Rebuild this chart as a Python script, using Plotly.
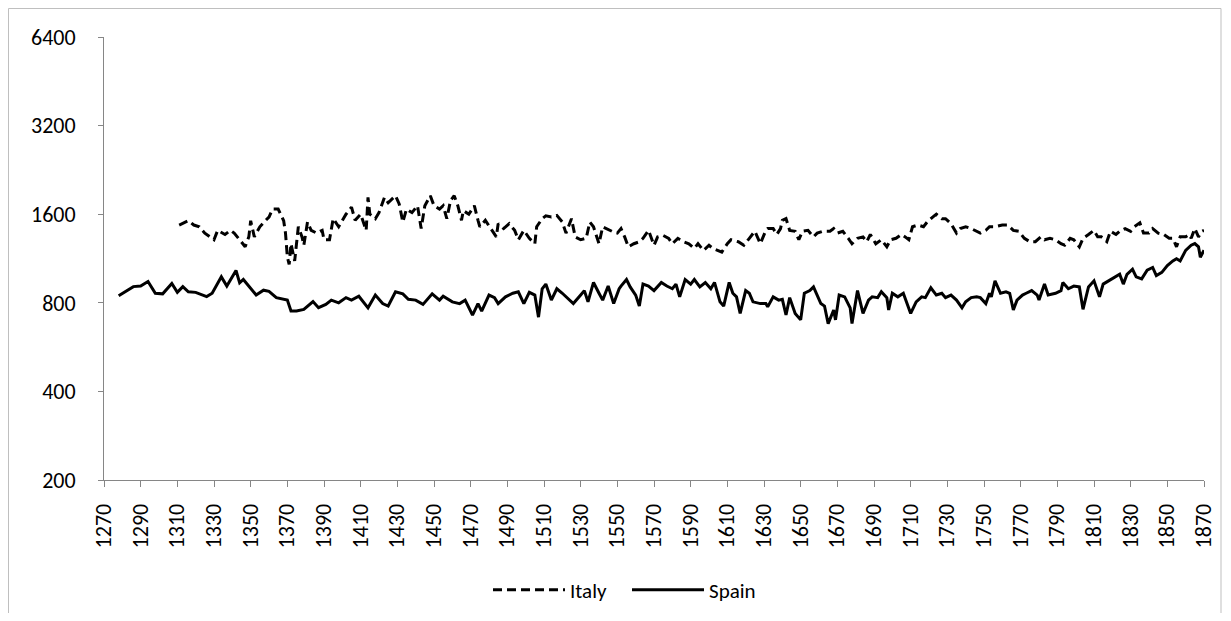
import plotly.graph_objects as go

italy_years = [1311, 1316, 1319, 1322, 1325, 1330, 1332, 1336, 1339, 1341, 1344, 1347, 1349, 1350, 1352,
               1355, 1358, 1360, 1362, 1365, 1368, 1369, 1370, 1371, 1372, 1374, 1376, 1378, 1379, 1381,
               1383, 1386, 1389, 1390, 1393, 1395, 1398, 1402, 1405, 1407, 1410, 1413, 1414, 1415, 1418,
               1420, 1423, 1425, 1429, 1431, 1433, 1435, 1438, 1441, 1443, 1445, 1448, 1450, 1453, 1455,
               1457, 1459, 1461, 1463, 1465, 1466, 1469, 1472, 1474, 1475, 1478, 1481, 1484, 1485, 1488,
               1491, 1494, 1496, 1499, 1502, 1505, 1506, 1509, 1511, 1514, 1517, 1520, 1522, 1525, 1527,
               1530, 1533, 1535, 1537, 1540, 1542, 1544, 1547, 1550, 1552, 1554, 1556, 1559, 1562, 1564,
               1567, 1570, 1572, 1575, 1578, 1580, 1583, 1586, 1589, 1592, 1594, 1597, 1600, 1602, 1605,
               1607, 1610, 1612, 1616, 1619, 1622, 1625, 1628, 1631, 1632, 1635, 1637, 1639, 1640, 1642,
               1644, 1647, 1649, 1651, 1654, 1657, 1659, 1662, 1666, 1668, 1670, 1673, 1676, 1678, 1681,
               1684, 1686, 1688, 1691, 1694, 1697, 1699, 1702, 1705, 1707, 1709, 1711, 1714, 1717, 1719,
               1722, 1724, 1727, 1729, 1732, 1735, 1737, 1740, 1743, 1746, 1748, 1751, 1753, 1756, 1760,
               1763, 1766, 1769, 1772, 1775, 1778, 1781, 1783, 1786, 1789, 1792, 1794, 1797, 1799, 1802,
               1804, 1807, 1810, 1812, 1814, 1817, 1819, 1822, 1824, 1827, 1830, 1832, 1835, 1837, 1840,
               1842, 1845, 1848, 1851, 1853, 1855, 1857, 1860, 1862, 1863, 1865, 1867, 1869, 1870]
italy_values = [1470, 1520, 1470, 1450, 1380, 1310, 1410, 1365, 1410, 1380, 1310, 1240, 1340, 1520, 1340,
                1450, 1520, 1565, 1665, 1665, 1520, 1380, 1145, 1080, 1270, 1110, 1450, 1340, 1255, 1505,
                1410, 1380, 1410, 1310, 1310, 1545, 1450, 1600, 1690, 1525, 1600, 1410, 1825, 1600, 1545,
                1620, 1825, 1750, 1850, 1735, 1505, 1665, 1620, 1710, 1430, 1710, 1850, 1710, 1665, 1710,
                1545, 1780, 1850, 1710, 1525, 1645, 1600, 1710, 1525, 1450, 1525, 1430, 1340, 1485, 1430,
                1485, 1410, 1310, 1410, 1325, 1270, 1450, 1545, 1580, 1565, 1585, 1505, 1380, 1545, 1340,
                1310, 1325, 1505, 1450, 1270, 1450, 1430, 1400, 1380, 1430, 1340, 1240, 1270, 1290, 1325,
                1410, 1255, 1340, 1355, 1325, 1270, 1325, 1290, 1270, 1225, 1270, 1205, 1255, 1225, 1205,
                1190, 1270, 1310, 1290, 1255, 1325, 1400, 1270, 1410, 1430, 1430, 1365, 1430, 1525, 1545,
                1410, 1400, 1310, 1400, 1410, 1340, 1380, 1400, 1400, 1430, 1380, 1400, 1325, 1270, 1325,
                1340, 1290, 1365, 1270, 1310, 1240, 1310, 1325, 1365, 1340, 1310, 1450, 1470, 1450, 1505,
                1565, 1600, 1545, 1545, 1485, 1380, 1430, 1450, 1430, 1400, 1380, 1410, 1450, 1450, 1470,
                1470, 1410, 1400, 1325, 1290, 1290, 1340, 1310, 1325, 1310, 1270, 1255, 1325, 1310, 1240,
                1325, 1365, 1410, 1340, 1340, 1290, 1400, 1365, 1400, 1430, 1400, 1450, 1495, 1380, 1380,
                1430, 1380, 1365, 1325, 1325, 1240, 1340, 1340, 1365, 1325, 1430, 1340, 1400, 1410]

spain_years = [1278, 1286, 1290, 1294, 1298, 1302, 1307, 1310, 1313, 1316, 1320, 1326, 1329, 1334, 1337,
               1342, 1344, 1346, 1353, 1357, 1360, 1364, 1370, 1372, 1375, 1379, 1384, 1387, 1391, 1394,
               1398, 1402, 1405, 1409, 1414, 1418, 1422, 1425, 1429, 1433, 1436, 1440, 1444, 1449, 1453,
               1455, 1460, 1464, 1467, 1471, 1474, 1476, 1480, 1483, 1485, 1489, 1493, 1496, 1499, 1502,
               1505, 1507, 1509, 1511, 1514, 1517, 1520, 1522, 1526, 1530, 1532, 1534, 1537, 1540, 1542,
               1545, 1548, 1551, 1552, 1555, 1557, 1560, 1562, 1564, 1567, 1570, 1572, 1574, 1577, 1580,
               1582, 1584, 1587, 1590, 1592, 1595, 1598, 1601, 1603, 1606, 1608, 1611, 1613, 1615, 1617,
               1620, 1622, 1624, 1628, 1631, 1632, 1635, 1638, 1640, 1642, 1644, 1647, 1650, 1652, 1655,
               1657, 1659, 1661, 1663, 1665, 1668, 1669, 1671, 1674, 1677, 1678, 1681, 1684, 1687, 1689,
               1692, 1694, 1697, 1698, 1700, 1703, 1706, 1708, 1710, 1713, 1716, 1718, 1721, 1724, 1727,
               1729, 1732, 1735, 1738, 1740, 1743, 1746, 1748, 1751, 1753, 1754, 1756, 1759, 1762, 1764,
               1766, 1768, 1771, 1773, 1776, 1779, 1780, 1783, 1785, 1789, 1792, 1793, 1796, 1799, 1802,
               1804, 1807, 1810, 1813, 1815, 1818, 1822, 1824, 1826, 1828, 1831, 1833, 1836, 1839, 1842,
               1844, 1847, 1850, 1853, 1855, 1857, 1860, 1863, 1865, 1867, 1868, 1870]
spain_values = [845, 908, 912, 945, 862, 858, 930, 868, 908, 872, 868, 840, 862, 980, 912,
                1030, 935, 960, 850, 883, 875, 833, 817, 750, 750, 760, 808, 770, 790, 817,
                800, 833, 817, 842, 769, 850, 795, 780, 872, 858, 822, 817, 790, 858, 817,
                842, 806, 795, 817, 727, 795, 750, 850, 833, 795, 838, 862, 872, 795, 868,
                850, 715, 893, 926, 817, 893, 862, 838, 795, 850, 880, 806, 938, 862, 817,
                912, 795, 893, 912, 960, 906, 850, 780, 926, 912, 880, 912, 938, 912, 893,
                926, 838, 960, 926, 960, 906, 938, 893, 938, 806, 780, 938, 862, 838, 736,
                880, 862, 806, 795, 795, 775, 838, 817, 822, 727, 833, 736, 700, 862, 880,
                906, 850, 795, 780, 680, 756, 700, 850, 838, 769, 680, 880, 736, 817, 838,
                833, 872, 833, 756, 862, 838, 862, 795, 736, 806, 838, 833, 900, 850, 862,
                833, 850, 817, 769, 806, 833, 838, 833, 795, 862, 838, 950, 862, 872, 862,
                756, 817, 850, 862, 880, 850, 817, 926, 850, 862, 880, 938, 893, 912, 906,
                760, 906, 950, 838, 926, 950, 980, 1000, 926, 1000, 1040, 980, 965, 1033, 1055,
                990, 1015, 1070, 1110, 1130, 1110, 1206, 1255, 1272, 1240, 1143, 1206]

x_ticks = list(range(1270, 1871, 20))
y_ticks = [200, 400, 800, 1600, 3200, 6400]

FONT = "Calibri, Carlito, Lato, sans-serif"
AXIS_COLOR = "#868686"

# figure sits inside the page's 8px body margin
W, H = 1215, 605
L, T, R, B = 96, 29, 19, 133
PW, PH = W - L - R, H - T - B


def px_x(fx):
    return (fx - L) / PW


def px_y(fy):
    return (PH + T - fy) / PH


fig = go.Figure()
fig.add_trace(go.Scatter(x=italy_years, y=italy_values, mode="lines", name="Italy",
                         legend="legend",
                         line=dict(color="black", width=3, dash="9px,5px")))
fig.add_trace(go.Scatter(x=spain_years, y=spain_values, mode="lines", name="Spain",
                         legend="legend2",
                         line=dict(color="black", width=3)))

legend_common = dict(orientation="h", xanchor="left", yanchor="middle",
                     font=dict(size=21), itemwidth=72, bgcolor="rgba(0,0,0,0)")

fig.update_layout(
    width=W, height=H,
    margin=dict(l=L, r=R, t=T, b=B, autoexpand=False),
    paper_bgcolor="white", plot_bgcolor="white",
    font=dict(family=FONT, size=22, color="black"),
    showlegend=True,
    legend=dict(x=px_x(480), y=px_y(582), **legend_common),
    legend2=dict(x=px_x(619), y=px_y(582), **legend_common),
    xaxis=dict(range=[1270, 1870], tickmode="array", tickvals=x_ticks,
               ticktext=[str(t) for t in x_ticks], tickangle=-90,
               showline=True, linecolor=AXIS_COLOR, linewidth=1,
               ticks="outside", ticklen=6, tickcolor=AXIS_COLOR,
               ticklabelstandoff=8,
               showgrid=False, zeroline=False),
    yaxis=dict(type="log", range=[2.30103, 3.80618], tickmode="array", tickvals=y_ticks,
               ticktext=[str(t) for t in y_ticks],
               showline=True, linecolor=AXIS_COLOR, linewidth=1,
               ticks="outside", ticklen=5, tickcolor=AXIS_COLOR,
               ticklabelstandoff=18,
               showgrid=False, zeroline=False),
    shapes=[dict(type="rect", xref="paper", yref="paper",
                 x0=px_x(0.5), x1=px_x(1213),
                 y0=px_y(640), y1=px_y(0.5),
                 line=dict(color="#bfbfbf", width=1), fillcolor="rgba(0,0,0,0)", layer="below")],
)

fig.write_html("out.html")
